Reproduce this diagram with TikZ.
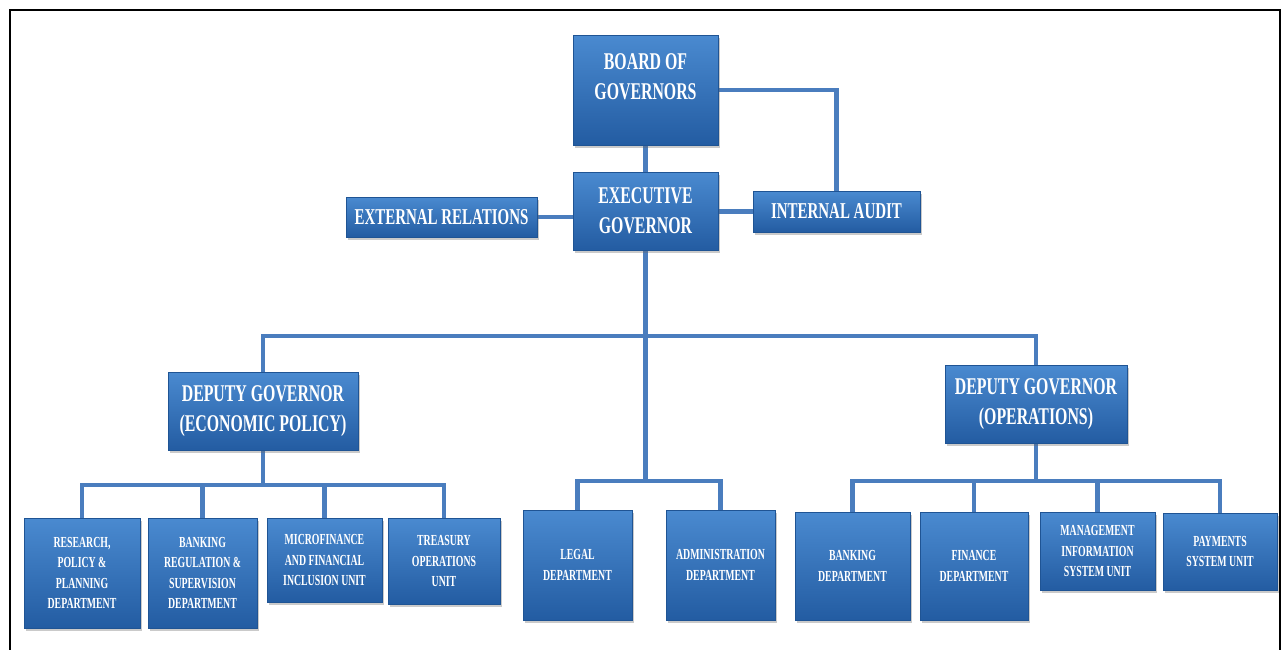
\documentclass[tikz,border=0pt]{standalone}
\usepackage{fontspec}
\setmainfont{Liberation Serif}
\newfontfamily\bigf{Liberation Serif}[FakeStretch=0.66]
\newfontfamily\smallf{Liberation Serif}[FakeStretch=0.64]
\usetikzlibrary{shadows,backgrounds}
\definecolor{boxtop}{HTML}{4A8AD0}
\definecolor{boxbot}{HTML}{235CA2}
\definecolor{boxedge}{HTML}{1F5494}
\definecolor{conncol}{HTML}{4A7DBE}
\tikzset{
  sz/.style 2 args={minimum width=#1*0.75pt, minimum height=#2*0.75pt},
  box/.style={draw=boxedge, line width=0.6pt, top color=boxtop, bottom color=boxbot,
    inner sep=1pt, align=center, text=white,
    drop shadow={shadow xshift=1.5pt, shadow yshift=-2.5pt, opacity=0.35, fill=black!60}},
  bigfont/.style={font=\bigf\bfseries\fontsize{18}{22.5}\selectfont},
  bigbox/.style={box, bigfont},
  midbox/.style={box, font=\bigf\bfseries\fontsize{17}{21}\selectfont},
  smallbox/.style={box, font=\smallf\bfseries\fontsize{11.5}{15.3}\selectfont},
  plaintext/.style={text=white, align=center, inner sep=0pt},
  conn/.style={draw=conncol, line width=3.6pt, line cap=rect},
  frame/.style={draw=black, line width=1.5pt}
}
\begin{document}
\begin{tikzpicture}[x=0.75pt,y=-0.75pt]
\useasboundingbox (0,0) rectangle (1286,650);
\draw[frame] (10,650) -- (10,10) -- (1280,10) -- (1280,650);

% top level
\node[box, sz={145}{110}] (board) at (645.5,90) {};
\node[plaintext, bigfont] (boardtext) at (645.5,77) {BOARD OF\\GOVERNORS};
\node[bigbox, sz={145}{78}] (exec) at (645.5,211) {EXECUTIVE\\GOVERNOR};
\node[midbox, sz={191}{40}] (ext) at (441.5,217) {EXTERNAL RELATIONS};
\node[midbox, sz={167}{41}] (audit) at (836.5,211.5) {INTERNAL AUDIT};
\node[bigbox, sz={190}{78}] (dge) at (263,411) {DEPUTY GOVERNOR\\(ECONOMIC POLICY)};
\node[bigbox, sz={182}{78}] (dgo) at (1036,404) {DEPUTY GOVERNOR\\(OPERATIONS)};

% economic policy units
\node[smallbox, sz={116}{110}] (research) at (82,573) {RESEARCH,\\POLICY \&\\PLANNING\\DEPARTMENT};
\node[smallbox, sz={109}{110}] (bankreg) at (202.5,573) {BANKING\\REGULATION \&\\SUPERVISION\\DEPARTMENT};
\node[smallbox, sz={115}{84}] (micro) at (324.5,560) {MICROFINANCE\\AND FINANCIAL\\INCLUSION UNIT};
\node[smallbox, sz={112}{86}] (treasury) at (444,561) {TREASURY\\OPERATIONS\\UNIT};

% executive units
\node[smallbox, sz={109}{110}] (legal) at (577.5,565) {LEGAL\\DEPARTMENT};
\node[smallbox, sz={109}{110}] (admin) at (720.5,565) {ADMINISTRATION\\DEPARTMENT};

% operations units
\node[smallbox, sz={115}{108}] (bankdept) at (852.5,566) {BANKING\\DEPARTMENT};
\node[smallbox, sz={108}{108}] (finance) at (974,566) {FINANCE\\DEPARTMENT};
\node[smallbox, sz={115}{78}] (mis) at (1097.5,551) {MANAGEMENT\\INFORMATION\\SYSTEM UNIT};
\node[smallbox, sz={114}{77}] (payments) at (1220,551.5) {PAYMENTS\\SYSTEM UNIT};

% bus coordinates
\coordinate (topbus) at (645.5,336);
\coordinate (midbus) at (645.5,481);
\coordinate (ebus) at (263,485);
\coordinate (obus) at (1036,481);

\begin{scope}[on background layer]
\draw[conn] (board.south) -- (exec.north);
\draw[conn] (board.east) -| (audit.north);
\draw[conn] (ext.east) -- (ext.east -| exec.west);
\draw[conn] (audit.west) -- (audit.west -| exec.east);
\draw[conn] (exec.south) -- (midbus);
\draw[conn] (dge.north) |- (topbus) -| (dgo.north);
\draw[conn] (dge.south) -- (ebus);
\draw[conn] (research.north) |- (ebus) -| (treasury.north);
\draw[conn] (bankreg.north) -- (bankreg.north |- ebus);
\draw[conn] (micro.north) -- (micro.north |- ebus);
\draw[conn] (legal.north) |- (midbus) -| (admin.north);
\draw[conn] (dgo.south) -- (obus);
\draw[conn] (bankdept.north) |- (obus) -| (payments.north);
\draw[conn] (finance.north) -- (finance.north |- obus);
\draw[conn] (mis.north) -- (mis.north |- obus);
\end{scope}
\end{tikzpicture}
\end{document}
